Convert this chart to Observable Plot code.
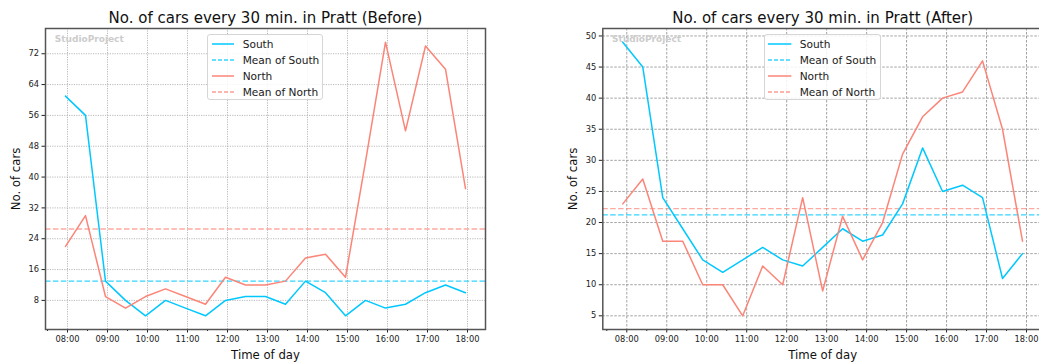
<!DOCTYPE html>
<html><head><meta charset="utf-8">
<script src="https://cdn.jsdelivr.net/npm/d3@7"></script>
<script src="https://cdn.jsdelivr.net/npm/@observablehq/plot@0.6"></script>
<style>
html,body{margin:0;padding:0;background:#fff;overflow:hidden;}
#wrap{position:relative;width:1039px;height:362px;overflow:hidden;font-family:"DejaVu Sans",sans-serif;}
.chart{position:absolute;top:0;}
.legend{position:absolute;box-sizing:border-box;border:1px solid #d6d6d6;border-radius:3px;background:rgba(255,255,255,0.85);font-size:10.6px;color:#1a1a1a;}
.legend .row{position:absolute;left:0;height:16px;width:100%;}
.legend .sw{position:absolute;top:0;}
.legend .lab{position:absolute;top:0;line-height:16px;white-space:nowrap;}
</style>
</head><body>
<div id="wrap"></div>
<script>
// ---- data ----
const seriesNames = ["South", "North"];
const legendLabels = ["South", "Mean of South", "North", "Mean of North"];
const colors = ["#00c8ff", "#fb8578"];

const beforeTitle = "No. of cars every 30 min. in Pratt (Before)";
const afterTitle = "No. of cars every 30 min. in Pratt (After)";

const beforeTimes = ["07:57","08:27","08:57","09:27","09:57","10:27","10:57","11:27","11:57","12:27","12:57",
                     "13:27","13:57","14:27","14:57","15:27","15:57","16:27","16:57","17:27","17:57"];
const beforeSouth = [61,56,13,8,4,8,6,4,8,9,9,7,13,10,4,8,6,7,10,12,10];
const beforeNorth = [22,30,9,6,9,11,9,7,14,12,12,13,19,20,14,44,75,52,74,68,37];

const afterTimes = ["07:54","08:24","08:54","09:24","09:54","10:24","10:54","11:24","11:54","12:24","12:54",
                    "13:24","13:54","14:24","14:54","15:24","15:54","16:24","16:54","17:24","17:54"];
const afterSouth = [49,45,24,19,14,12,14,16,14,13,16,19,17,18,23,32,25,26,24,11,15];
const afterNorth = [23,27,17,17,10,10,5,13,10,24,9,21,14,20,31,37,40,41,46,35,17];

const hourTicks = ["08:00","09:00","10:00","11:00","12:00","13:00","14:00","15:00","16:00","17:00","18:00"];
const halfHourTicks = ["07:30","08:30","09:30","10:30","11:30","12:30","13:30","14:30","15:30","16:30","17:30"];
const beforeYTicks = [8,16,24,32,40,48,56,64,72];
const afterYTicks = [5,10,15,20,25,30,35,40,45,50];

// ---- helpers ----
const toH = s => { const [h, m] = s.split(":").map(Number); return h + m / 60; };

function makeChart(cfg) {
  const tx = cfg.times.map(toH);
  const all = cfg.south.concat(cfg.north);
  const lo = d3.min(all), hi = d3.max(all), pad = (hi - lo) * 0.05;
  const tlo = d3.min(tx), thi = d3.max(tx), tpad = (thi - tlo) * 0.05;
  const southRows = cfg.times.map((t, i) => ({t: toH(t), v: cfg.south[i]}));
  const northRows = cfg.times.map((t, i) => ({t: toH(t), v: cfg.north[i]}));
  const mS = d3.mean(cfg.south), mN = d3.mean(cfg.north);
  const fL = cfg.marginLeft;
  return Plot.plot({
    width: cfg.width, height: 362,
    marginLeft: cfg.marginLeft, marginRight: cfg.marginRight, marginTop: 28, marginBottom: 33,
    style: {fontFamily: "DejaVu Sans, sans-serif", background: "transparent", overflow: "visible", color: "#222"},
    x: {domain: [tlo - tpad, thi + tpad], label: null},
    y: {domain: [lo - pad, hi + pad], label: null},
    marks: [
      Plot.gridX(hourTicks.map(toH), {stroke: cfg.gridColor, strokeOpacity: 1, strokeWidth: 0.8, strokeDasharray: cfg.gridDash}),
      Plot.gridY(cfg.yTicks, {stroke: cfg.gridColor, strokeOpacity: 1, strokeWidth: 0.8, strokeDasharray: cfg.gridDash}),
      Plot.text(["StudioProject"], {frameAnchor: "top-left", lineAnchor: "middle", textAnchor: "start", dx: 9.3, dy: 11.1, fontSize: 9, fontWeight: "bold", fill: "#cccccc"}),
      Plot.ruleY([mS], {stroke: colors[0], strokeOpacity: 0.8, strokeWidth: 1.3, strokeDasharray: "5.5,2.4"}),
      Plot.ruleY([mN], {stroke: colors[1], strokeOpacity: 0.7, strokeWidth: 1.3, strokeDasharray: "5.5,2.4"}),
      Plot.line(southRows, {x: "t", y: "v", stroke: colors[0], strokeWidth: 1.5}),
      Plot.line(northRows, {x: "t", y: "v", stroke: colors[1], strokeWidth: 1.5}),
      Plot.axisX(hourTicks.map(toH), {tickFormat: (d, i) => hourTicks[i], tickSize: 3.5, tickPadding: 3, fontSize: 8.3, label: null, stroke: "#222"}),
      Plot.axisX(halfHourTicks.map(toH), {tickFormat: () => "", tickSize: 2, label: null, stroke: "#222"}),
      Plot.axisY(cfg.yTicks, {tickSize: 3.5, tickPadding: 3, fontSize: 8.3, label: null, stroke: "#222"}),
      Plot.text([cfg.title], {frameAnchor: "top", lineAnchor: "middle", dy: -10.2, fontSize: 15, fill: "#111"}),
      Plot.text(["Time of day"], {frameAnchor: "bottom", lineAnchor: "middle", dy: 25.8, fontSize: 11.7, fill: "#111"}),
      Plot.text(["No. of cars"], {frameAnchor: "left", lineAnchor: "middle", rotate: -90, textAnchor: "middle", dx: cfg.yLabelX - fL, fontSize: 11.7, fill: "#111"}),
      Plot.frame({stroke: "#555", strokeWidth: 1.5})
    ]
  });
}

function makeLegend(left, swL, swR, textL) {
  const box = document.createElement("div");
  box.className = "legend";
  Object.assign(box.style, {left: left + "px", top: "34.3px", width: "116.4px", height: "65.7px"});
  legendLabels.forEach((lab, i) => {
    const row = document.createElement("div");
    row.className = "row";
    row.style.top = (0.7 + 16 * i) + "px";
    const c = colors[i < 2 ? 0 : 1];
    const dashed = i % 2 === 1;
    const w = swR - swL;
    row.innerHTML =
      `<svg class="sw" style="left:${swL}px" width="${w}" height="16"><line x1="0" x2="${w}" y1="8" y2="8" stroke="${c}" stroke-width="1.5" ${dashed ? 'stroke-dasharray="4,2" stroke-opacity="0.8"' : ''}/></svg>` +
      `<div class="lab" style="left:${textL}px">${lab}</div>`;
    box.appendChild(row);
  });
  return box;
}

const wrap = document.getElementById("wrap");

const left = makeChart({
  times: beforeTimes, south: beforeSouth, north: beforeNorth, yTicks: beforeYTicks,
  width: 520, marginLeft: 45, marginRight: 35, title: beforeTitle, yLabelX: 16,
  gridColor: "#a8a8a8", gridDash: "1.2,1.2"
});
left.classList.add("chart");
left.style.left = "0px";
wrap.appendChild(left);

const right = makeChart({
  times: afterTimes, south: afterSouth, north: afterNorth, yTicks: afterYTicks,
  width: 525, marginLeft: 82.3, marginRight: 3, title: afterTitle, yLabelX: 52.5,
  gridColor: "#8a8a8a", gridDash: "2.5,1.5"
});
right.classList.add("chart");
right.style.left = "520px";
wrap.appendChild(right);

wrap.appendChild(makeLegend(206.7, 4.3, 26.6, 35));
wrap.appendChild(makeLegend(764.3, 3, 26.4, 34.4));
</script>
</body></html>
